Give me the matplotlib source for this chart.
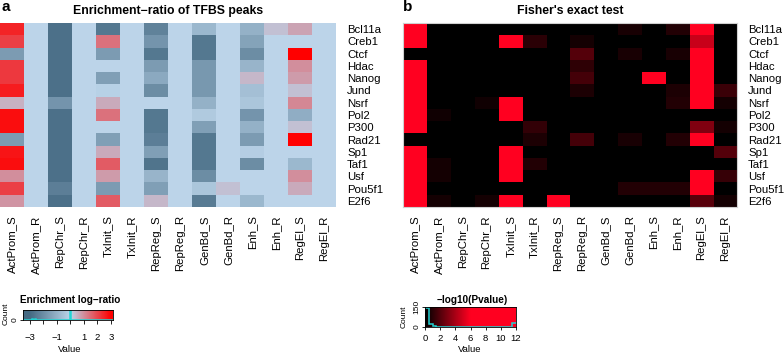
import numpy as np
import matplotlib
matplotlib.use('Agg')
import matplotlib.pyplot as plt
from matplotlib.colors import LinearSegmentedColormap

plt.rcParams['font.family'] = ['Liberation Sans', 'DejaVu Sans']
plt.rcParams['axes.unicode_minus'] = True

factors = ['Bcl11a', 'Creb1', 'Ctcf', 'Hdac', 'Nanog', 'Jund', 'Nsrf', 'Pol2',
           'P300', 'Rad21', 'Sp1', 'Taf1', 'Usf', 'Pou5f1', 'E2f6']
regions = ['ActProm_S', 'ActProm_R', 'RepChr_S', 'RepChr_R', 'TxInit_S', 'TxInit_R',
           'RepReg_S', 'RepReg_R', 'GenBd_S', 'GenBd_R', 'Enh_S', 'Enh_R',
           'RegEl_S', 'RegEl_R']

# enrichment log-ratio, one row per factor
log_ratio = [
    [2.5, 0, -2.8, 0, -2.6, 0, -2.3, 0, -0.8, 0, -1.0, 0.3, 0.7, 0],
    [2.1, 0, -2.8, 0, 1.4, 0, -1.8, 0, -2.6, 0, -1.4, 0, 0, 0],
    [-1.6, 0, -2.8, 0, -1.6, 0, -2.6, 0, -2.6, 0, -2.0, 0, 3.0, 0],
    [2.2, 0, -2.8, 0, 0, 0, -1.6, 0, -1.7, 0, -0.9, 0, 1.0, 0],
    [2.2, 0, -2.8, 0, -1.5, 0, -1.2, 0, -1.7, 0, 0.4, 0, 0.8, 0],
    [2.6, 0, -2.8, 0, -0.1, 0, -2.0, 0, -1.7, 0, -0.6, 0, 0.3, 0],
    [0.5, 0, -1.8, 0, 0.6, 0, 0, 0, -1.0, 0, -0.4, 0, 1.1, 0],
    [2.8, 0, -2.8, 0, 1.4, 0, -2.6, 0, -0.3, 0, -1.8, 0, -1.1, 0],
    [2.8, 0, -2.8, 0, 0, 0, -2.6, 0, -1.5, 0, -1.0, 0, 0.3, 0],
    [-1.6, 0, -2.8, 0, -1.5, 0, -2.4, 0, -2.6, 0, -1.6, 0, 3.0, 0],
    [2.7, 0, -2.8, 0, 0.6, 0, -1.5, 0, -2.6, 0, -0.2, 0, 0, 0],
    [2.8, 0, -2.8, 0, 1.7, 0, -2.7, 0, -2.6, 0, -2.0, 0, -0.8, 0],
    [1.0, 0, -2.8, 0, 0.8, 0, -0.9, 0, -2.0, 0, 0, 0, 1.0, 0],
    [2.1, 0, -2.4, 0, -1.6, 0, -1.5, 0, -0.4, 0.3, 0, 0, 0.6, 0],
    [0.9, 0, -2.8, 0, 1.7, 0, 0.4, 0, -2.5, 0, -0.8, 0, 0, 0],
]

# -log10(Pvalue) of Fisher's exact test
neg_log_p = [
    [12, 0, 0, 0, 0, 0, 0, 0, 0, 0.6, 0, 0.8, 12, 0],
    [12, 0, 0, 0, 12, 1.0, 0, 0.5, 0, 0, 0, 0, 4.7, 0],
    [0, 0, 0, 0, 0, 0, 0, 2.0, 0, 0.6, 0, 0.6, 12, 0],
    [12, 0, 0, 0, 0, 0, 0, 1.1, 0, 0, 0, 0, 12, 0],
    [12, 0, 0, 0, 0, 0, 0, 1.6, 0, 0, 12, 0, 12, 0],
    [12, 0, 0, 0, 0, 0, 0, 0.7, 0, 0, 0, 0.7, 12, 1.4],
    [12, 0, 0, 0.4, 12, 0, 0, 0, 0, 0, 0, 0.8, 12, 0.5],
    [12, 0.4, 0, 0, 12, 0, 0, 0, 0, 0, 0, 0, 0, 0],
    [12, 0, 0, 0, 0, 1.2, 0, 0, 0, 0, 0, 0, 3.0, 0.5],
    [0, 0, 0, 0, 0, 0.7, 0, 1.6, 0, 0.6, 0, 0.8, 12, 0],
    [12, 0, 0, 0, 12, 0, 0, 0, 0, 0, 0, 0, 0, 2.0],
    [12, 0.5, 0, 0, 12, 0.8, 0, 0, 0, 0, 0, 0, 0, 0],
    [12, 0.5, 0, 0, 12, 0, 0, 0, 0, 0, 0, 0, 12, 1.3],
    [12, 0, 0, 0, 0, 0, 0, 0, 0, 0.8, 0.8, 0.8, 12, 0],
    [12, 0.5, 0, 0.5, 12, 0, 12, 0, 0, 0, 0, 0, 2.1, 0.5],
]

enrich_cmap = LinearSegmentedColormap.from_list(
    'enrich', [(0, '#456a83'), (0.5, '#bcd5ea'), (1, '#ff0000')])
fisher_cmap = LinearSegmentedColormap.from_list(
    'fisher', [(0, '#000000'), (0.5, '#ff0020'), (1, '#ff0020')])

fig = plt.figure(figsize=(7.84, 3.54), dpi=100)
W, H = 784.0, 354.0


def px_rect(x0, y0, x1, y1):
    # pixel box (top-left origin) -> figure fraction
    return [x0 / W, 1 - y1 / H, (x1 - x0) / W, (y1 - y0) / H]


def heat(rect, data, cmap, vmin, vmax, frame):
    ax = fig.add_axes(rect)
    ax.imshow(np.array(data), cmap=cmap, vmin=vmin, vmax=vmax,
              aspect='auto', interpolation='nearest')
    ax.set_xticks(range(len(regions)))
    ax.set_xticklabels(regions, rotation=90, fontsize=8.2)
    ax.set_yticks(range(len(factors)))
    ax.set_yticklabels(factors, fontsize=8.2)
    ax.yaxis.tick_right()
    ax.tick_params(axis='y', length=0, pad=8)
    ax.tick_params(axis='x', length=0, pad=6)
    for s in ax.spines.values():
        s.set_visible(frame)
        s.set_color('#d0d0d0')
        s.set_linewidth(0.8)
    return ax


ax_a = heat(px_rect(0, 23, 336, 207), log_ratio, enrich_cmap, -3, 3, False)
ax_b = heat(px_rect(403, 23, 737, 207), neg_log_p, fisher_cmap, 0, 12, True)

fig.text(168 / W, 1 - 11 / H, 'Enrichment\u2212ratio of TFBS peaks', ha='center',
         va='center', fontsize=8.8, fontweight='bold')
fig.text(570 / W, 1 - 11 / H, "Fisher's exact test", ha='center', va='center',
         fontsize=8.8, fontweight='bold')
fig.text(2 / W, 1 - 7 / H, 'a', ha='left', va='center', fontsize=11, fontweight='bold')
fig.text(403 / W, 1 - 7 / H, 'b', ha='left', va='center', fontsize=11, fontweight='bold')


def key(rect, cmap, vmin, vmax, lo, hi, values, bins, ytop, yticks,
        title, title_x, count_xy, value_x, tick_len, tick_pad):
    ax = fig.add_axes(rect)
    grad = np.linspace(lo, hi, 300)[None, :]
    ax.imshow(grad, cmap=cmap, vmin=vmin, vmax=vmax, aspect='auto',
              extent=[lo, hi, 0, ytop], interpolation='bilinear')
    counts, edges = np.histogram(np.ravel(values), bins)
    ax.stairs(counts, edges, color='#22d3d3', lw=1.1, baseline=None)
    ax.set_xlim(lo, hi)
    ax.set_ylim(0, ytop)
    ax.set_yticks(yticks)
    ax.set_yticklabels([str(t) for t in yticks], rotation=90, va='center', fontsize=6)
    ax.tick_params(axis='y', length=2.5, width=0.6, pad=1)
    ax.tick_params(axis='x', length=tick_len, width=0.6, labelsize=6.8, pad=tick_pad)
    for s in ax.spines.values():
        s.set_linewidth(0.6)
    fig.text(title_x / W, 1 - 300 / H, title, ha='center', va='center',
             fontsize=7.2, fontweight='bold')
    fig.text(count_xy[0] / W, 1 - count_xy[1] / H, 'Count', rotation=90,
             ha='center', va='center', fontsize=6)
    fig.text(value_x / W, 1 - 349 / H, 'Value', ha='center', va='center', fontsize=6.8)
    return ax


k_a = key(px_rect(23, 310, 113, 320), enrich_cmap, -3, 3, -3.5, 3.15, log_ratio,
          np.arange(-3.525, 3.2, 0.05), 120, [0], 'Enrichment log\u2212ratio', 70,
          (6, 314), 70, 3, 6.5)
k_a.set_xticks([-3, -2, -1, 0, 1, 2, 3])
k_a.set_xticklabels(['\u22123', '', '\u22121', '', '1', '2', '3'])

k_b = key(px_rect(425, 307, 516, 327), fisher_cmap, 0, 12, 0, 12, neg_log_p,
          np.arange(0, 12.01, 0.5), 150, [0, 150], '\u2212log10(Pvalue)', 472,
          (404, 317), 470, 2.5, 2.5)
k_b.set_xticks(range(0, 13, 2))

fig.savefig('out.png', dpi=100)
